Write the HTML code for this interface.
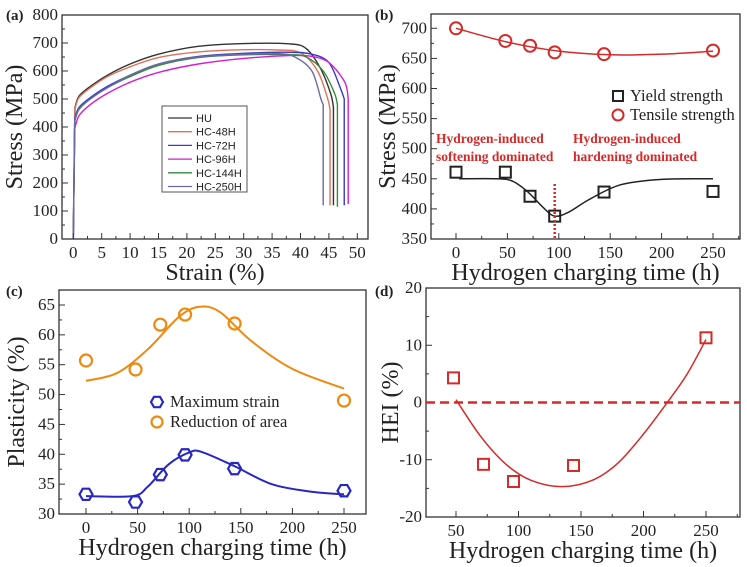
<!DOCTYPE html>
<html><head><meta charset="utf-8">
<style>
body{margin:0;background:#fff}
svg{display:block;font-family:"Liberation Serif",serif}
</style></head>
<body>
<svg id="fig" width="747" height="567" viewBox="0 0 747 567"></svg>
<script>
// ---- Panel (a) data ----
const aNames=["HU","HC-48H","HC-72H","HC-96H","HC-144H","HC-250H"];
const aColors=["#333333","#e0705a","#3a3ac8","#d21ed2","#3a8a3a","#6a6aa8"];
const aStrain=[
[0,0.3,1,3,6,10,15,22,30,38,41,43.5,45.3,45.8,45.8],
[0,0.3,1,3,6,10,15,22,30,36,40,43,44.8,45.2,45.2],
[0,0.25,1,3,6,10,15,22,30,38,42,45,47,47.7,47.7],
[0,0.2,1,3,6,10,15,22,30,38,42,45,47.8,48.4,48.4],
[0,0.25,1,3,6,10,15,22,30,38,41,44,46,46.5,46.5],
[0,0.25,1,3,6,10,15,22,30,36,39,42,43.6,44,44]];
const aStress=[
[0,470,510,545,585,625,660,688,698,697,680,610,520,470,120],
[0,465,505,540,580,615,648,668,676,675,665,600,500,460,120],
[0,430,470,505,545,585,625,652,663,667,660,630,540,500,120],
[0,390,440,480,520,560,595,625,645,655,652,630,560,500,125],
[0,425,465,500,540,580,620,648,658,658,650,600,520,480,115],
[0,420,462,500,540,585,625,650,660,662,650,600,500,480,120]];
// ---- Panel (b) data ----
const bTime=[0,48,72,96,144,250];
const bTensile=[700,679,671,660,657,663];
const bYield=[461,461,421,388,428,429];
const bTensileFitX=[0,50,100,150,200,250];
const bTensileFitY=[700,677,662,656,657,662];
const bYieldFitX=[3,40,55,70,85,96,110,130,160,200,250];
const bYieldFitY=[450,450,446,428,402,388,395,416,440,449,450];
// ---- Panel (c) data ----
const cTime=[0,48,72,96,144,250];
const cMaxStrain=[33.3,32,36.6,39.9,37.6,33.9];
const cReduction=[55.7,54.2,61.7,63.4,61.9,49];
const cStrainFitX=[0,45,60,80,100,112,144,180,220,250];
const cStrainFitY=[33,33,34.6,38.3,40.3,40.4,38,35,33.7,33.3];
const cRedFitX=[0,30,60,90,110,130,160,200,250];
const cRedFitY=[52.3,53.6,57.6,63,64.7,63.8,59,54.3,51];
// ---- Panel (d) data ----
const dTime=[48,72,96,144,250];
const dHEI=[4.3,-10.8,-13.8,-11,11.3];
const dFitX=[50,70,90,110,135,160,180,200,220,235,250];
const dFitY=[0.5,-6,-10.8,-13.6,-14.7,-13.5,-10.5,-5.5,0.3,5,11];

const NS="http://www.w3.org/2000/svg";
const svg=document.getElementById('fig');
function el(tag,attrs,parent){const e=document.createElementNS(NS,tag);for(const k in attrs)e.setAttribute(k,attrs[k]);(parent||svg).appendChild(e);return e;}
function lin(d0,d1,r0,r1){return v=>r0+(v-d0)*(r1-r0)/(d1-d0);}
function smooth(pts){let d="M"+pts[0][0]+","+pts[0][1];for(let i=0;i<pts.length-1;i++){const p0=pts[i-1]||pts[i],p1=pts[i],p2=pts[i+1],p3=pts[i+2]||p2;const c1=[p1[0]+(p2[0]-p0[0])/6,p1[1]+(p2[1]-p0[1])/6],c2=[p2[0]-(p3[0]-p1[0])/6,p2[1]-(p3[1]-p1[1])/6];d+=" C"+c1+" "+c2+" "+p2;}return d;}

function axes(g,box,xs,ys,xt,xm,yt,ym,xlab,ylab,ylabX,plabel){
  const [L,T,R,B]=box;
  const r=el('rect',{x:L,y:T,width:R-L,height:B-T,fill:'none',stroke:'#333','stroke-width':1.3},g);
  
  
  xt.forEach(v=>{const x=xs(v);el('line',{x1:x,x2:x,y1:B,y2:B-6,stroke:'#333'},g);
    const t=el('text',{x:x,y:B+19,'font-size':17,'text-anchor':'middle',fill:'#222'},g);t.textContent=v;
    
    });
  xm.forEach(v=>{const x=xs(v);if(x<L||x>R)return;el('line',{x1:x,x2:x,y1:B,y2:B-3,stroke:'#333'},g);});
  yt.forEach(v=>{const y=ys(v);el('line',{x1:L,x2:L+6,y1:y,y2:y,stroke:'#333'},g);
    const t=el('text',{x:L-4,y:y+5,'font-size':17,'text-anchor':'end',fill:'#222'},g);t.textContent=v;
    
    });
  ym.forEach(v=>{const y=ys(v);if(y<T||y>B)return;el('line',{x1:L,x2:L+3,y1:y,y2:y,stroke:'#333'},g);});
  const xl=el('text',{x:(L+R)/2,y:B+41,'font-size':24,'text-anchor':'middle',fill:'#222'},g);xl.textContent=xlab;
  
  
  const cy=(T+B)/2;
  const yl=el('text',{x:ylabX,y:cy,'font-size':24,'text-anchor':'middle',fill:'#222',transform:`rotate(-90 ${ylabX} ${cy})`},g);yl.textContent=ylab;
  
  
  const pl=el('text',{x:plabel[0],y:plabel[1],'font-size':15,'font-weight':'bold',fill:'#222'},g);pl.textContent=plabel[2];
  
  
}
function range(a,b,s){const o=[];for(let v=a;v<=b+1e-9;v+=s)o.push(+v.toFixed(4));return o;}

// ===== Panel A =====
{
const g=el('g',{});
const xs=lin(0,50,73.3,357.3), ys=lin(0,800,239,15);
aNames.forEach((n,i)=>{
  const pts=aStrain[i].map((s,j)=>[xs(s),ys(aStress[i][j])]);
  const rest=pts.slice(1,pts.length-1);
  const p=el('path',{d:"M"+pts[0]+" L"+pts[1]+smooth(rest).replace(/^M[^ ]*/,'')+" L"+pts[pts.length-1],fill:'none',stroke:aColors[i],'stroke-width':1.4},g);
  
  
});
axes(g,[62,15,368,239],xs,ys,range(0,50,5),range(2.5,47.5,5),range(0,800,100),range(50,750,100),"Strain (%)","Stress (MPa)",22,[6,20,"(a)"]);
const lg=el('g',{},g);
el('rect',{x:162,y:106,width:85,height:86,fill:'#fff',stroke:'#555'},lg);
aNames.forEach((n,i)=>{const y=118+i*13.7;
  el('line',{x1:168,x2:192,y1:y,y2:y,stroke:aColors[i],'stroke-width':1.3},lg);
  const t=el('text',{x:196,y:y+4,'font-size':11,'font-family':'Liberation Sans, sans-serif',fill:'#222'},lg);t.textContent=n;
  
  });
}
// ===== Panel B =====
{
const g=el('g',{});
const xs=lin(0,250,456,713), ys=lin(350,700,239,28.3);
axes(g,[431,14,740,239],xs,ys,range(0,250,50),range(25,275,50),range(350,700,50),range(375,725,50),"Hydrogen charging time (h)","Stress (MPa)",395,[375,20,"(b)"]);
let p=el('path',{d:smooth(bTensileFitX.map((x,i)=>[xs(x),ys(bTensileFitY[i])])),fill:'none',stroke:'#d42a2a','stroke-width':1.5},g);

p=el('path',{d:smooth(bYieldFitX.map((x,i)=>[xs(x),ys(bYieldFitY[i])])),fill:'none',stroke:'#222','stroke-width':1.5},g);

bTime.forEach((t,i)=>{
  const c=el('circle',{cx:xs(t),cy:ys(bTensile[i]),r:6,fill:'none',stroke:'#d42a2a','stroke-width':2},g);
  
  const s=el('rect',{x:xs(t)-5.5,y:ys(bYield[i])-5.5,width:11,height:11,fill:'none',stroke:'#222','stroke-width':2},g);
  
});
const dl=el('line',{x1:xs(96),x2:xs(96),y1:184,y2:239,stroke:'#d42a2a','stroke-width':2.5,'stroke-dasharray':'2,2'},g);

[["Hydrogen-induced",436,143],["softening dominated",436,161],["Hydrogen-induced",573,143],["hardening dominated",573,161]].forEach(a=>{
  const t=el('text',{x:a[1],y:a[2],'font-size':13.5,'font-weight':'bold',fill:'#d42a2a'},g);t.textContent=a[0];
  });
const lg=el('g',{},g);
el('rect',{x:613,y:91,width:10,height:10,fill:'none',stroke:'#222','stroke-width':2},lg);
el('circle',{cx:618,cy:115,r:5.5,fill:'none',stroke:'#d42a2a','stroke-width':2},lg);
let t=el('text',{x:630,y:101,'font-size':16.5,fill:'#222'},lg);t.textContent="Yield strength";

t=el('text',{x:630,y:120,'font-size':16.5,fill:'#222'},lg);t.textContent="Tensile strength";

}
// ===== Panel C =====
function hex(g,cx,cy,r,col){const pts=[];for(let k=0;k<6;k++){const a=Math.PI/3*k;pts.push([cx+r*Math.cos(a),cy+r*Math.sin(a)]);}return el('polygon',{points:pts.join(' '),fill:'none',stroke:col,'stroke-width':2.2},g);}
{
const g=el('g',{});
const xs=lin(0,250,86,344), ys=lin(30,65,514,305);
axes(g,[59,290,366,514],xs,ys,range(0,250,50),range(25,275,50),range(30,65,5),range(32.5,67.5,5),"Hydrogen charging time (h)","Plasticity (%)",24,[6,296,"(c)"]);
let p=el('path',{d:smooth(cRedFitX.map((x,i)=>[xs(x),ys(cRedFitY[i])])),fill:'none',stroke:'#ee8a10','stroke-width':2},g);

p=el('path',{d:smooth(cStrainFitX.map((x,i)=>[xs(x),ys(cStrainFitY[i])])),fill:'none',stroke:'#2828c0','stroke-width':2},g);

cTime.forEach((t,i)=>{
  const c=el('circle',{cx:xs(t),cy:ys(cReduction[i]),r:6,fill:'none',stroke:'#ee8a10','stroke-width':2.2},g);
  
  const h=hex(g,xs(t),ys(cMaxStrain[i]),6.5,'#2828c0');
  
});
const lg=el('g',{},g);
hex(lg,157,402,6,'#2828c0');
el('circle',{cx:157,cy:422,r:5.5,fill:'none',stroke:'#ee8a10','stroke-width':2.2},lg);
let t=el('text',{x:170,y:407,'font-size':16.5,fill:'#222'},lg);t.textContent="Maximum strain";

t=el('text',{x:170,y:427,'font-size':16.5,fill:'#222'},lg);t.textContent="Reduction of area";

}
// ===== Panel D =====
{
const g=el('g',{});
const xs=lin(50,250,456,706), ys=lin(-20,20,517,288);
axes(g,[426,288,740,517],xs,ys,range(50,250,50),range(75,275,50),range(-20,20,10),range(-15,15,10),"Hydrogen charging time (h)","HEI (%)",398,[375,296,"(d)"]);
const zl=el('line',{x1:426,x2:740,y1:ys(0),y2:ys(0),stroke:'#d42a2a','stroke-width':2.5,'stroke-dasharray':'9,5'},g);

const p=el('path',{d:smooth(dFitX.map((x,i)=>[xs(x),ys(dFitY[i])])),fill:'none',stroke:'#d42a2a','stroke-width':1.5},g);

dTime.forEach((t,i)=>{
  const s=el('rect',{x:xs(t)-5.5,y:ys(dHEI[i])-5.5,width:11,height:11,fill:'none',stroke:'#d42a2a','stroke-width':2},g);
  
});
}
</script>
</body></html>
